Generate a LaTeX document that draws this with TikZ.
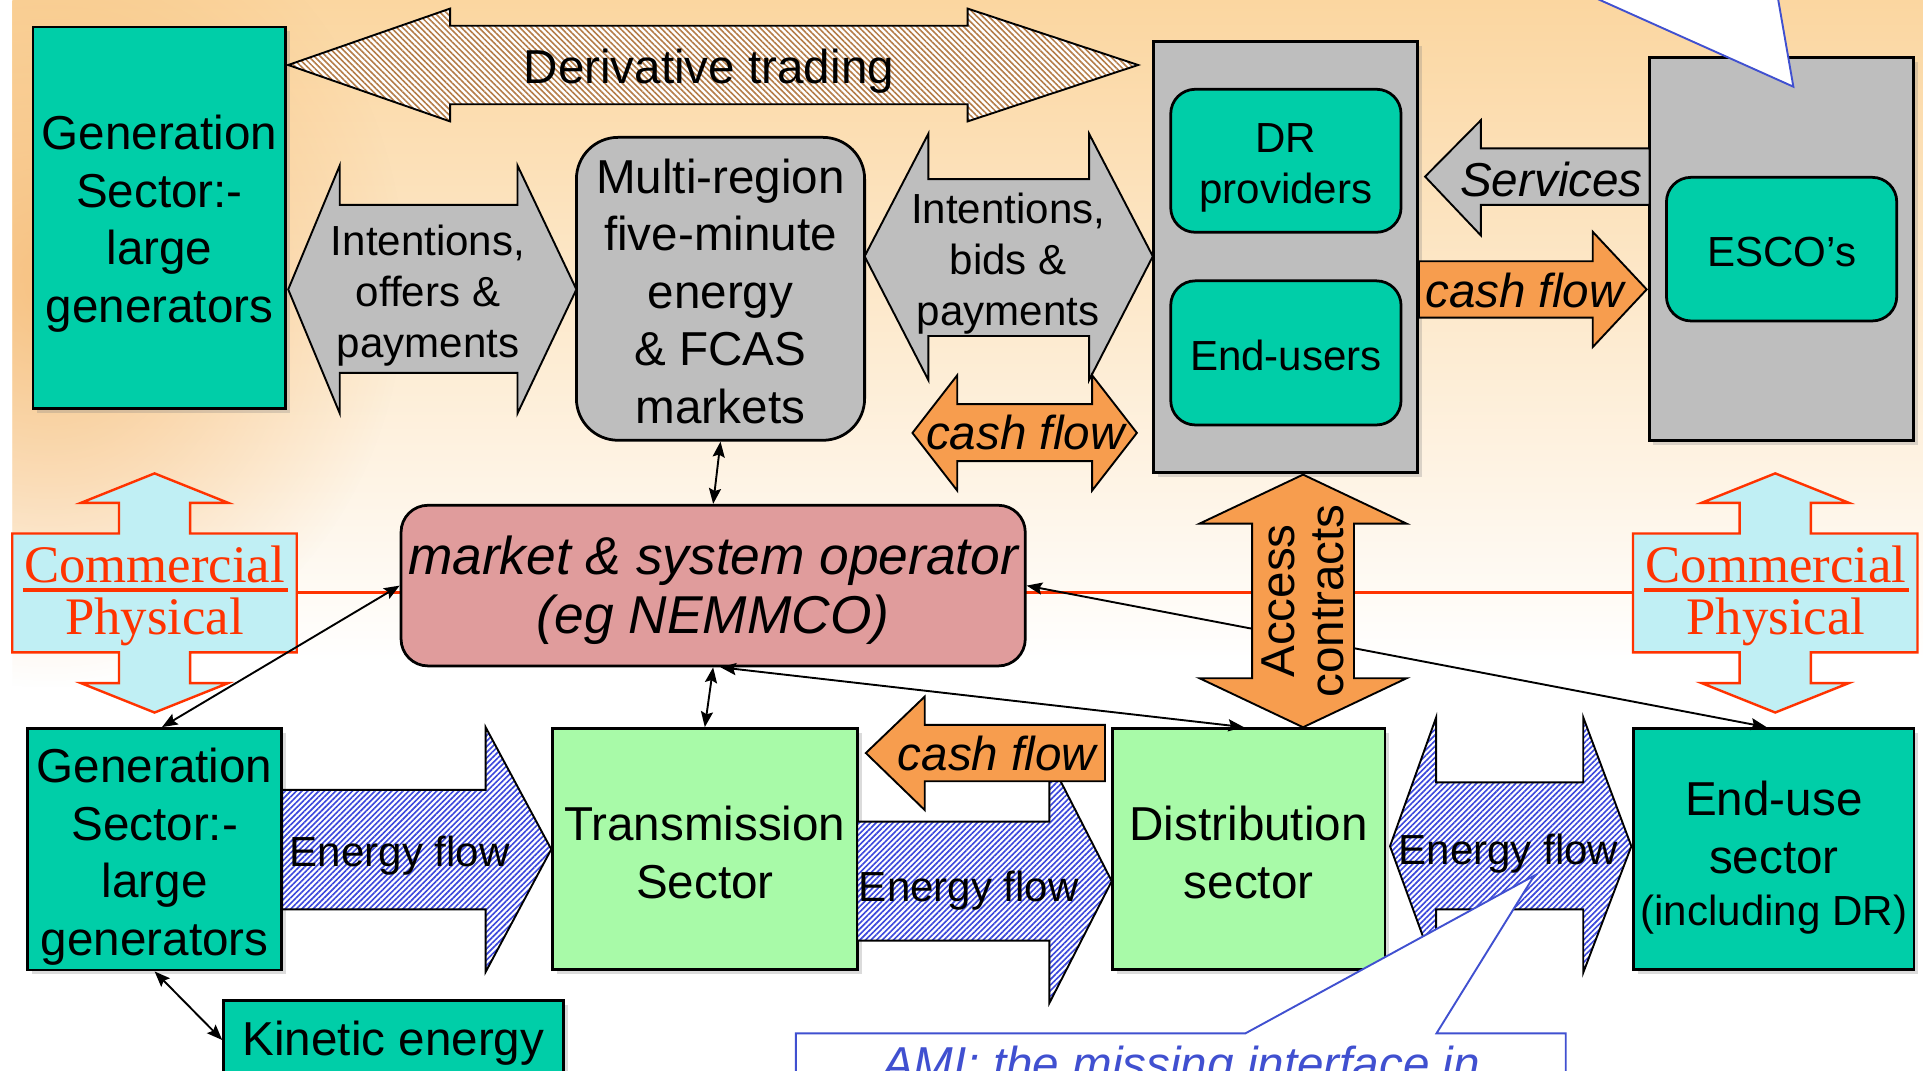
\documentclass[tikz,border=0pt]{standalone}
\usepackage{fontspec}
\setmainfont{Liberation Sans}
\newfontfamily\seriffam{Liberation Serif}
\usetikzlibrary{arrows.meta,calc,fit,shadows,patterns.meta,fadings}

\definecolor{teal1}{RGB}{0,206,168}
\definecolor{gray1}{RGB}{190,190,190}
\definecolor{lgreen}{RGB}{168,250,168}
\definecolor{pink1}{RGB}{224,156,156}
\definecolor{orng}{RGB}{247,157,78}
\definecolor{cyan1}{RGB}{192,239,244}
\definecolor{red1}{RGB}{255,51,0}
\definecolor{blue1}{RGB}{64,80,208}
\definecolor{hblue}{RGB}{60,72,220}
\definecolor{hbrown}{RGB}{180,124,72}
\definecolor{bgtop}{RGB}{251,214,160}
\definecolor{bgorange}{RGB}{244,178,100}

\newcommand\fntL{\fontsize{27.6}{33.4}\selectfont}
\newcommand\fntM{\fontsize{24.4}{29.4}\selectfont}
\newcommand\fntO{\fontsize{30.9}{34}\selectfont}
\newcommand\fntS{\seriffam\fontsize{30.6}{30}\selectfont}

\tikzfading[name=blobfade, inner color=transparent!30, outer color=transparent!100]

\tikzset{
  sbox/.style={draw=black, line width=1.6pt, inner sep=0pt},
  shadowed/.style={drop shadow={opacity=0.28, shadow xshift=2.5pt, shadow yshift=-2.5pt}},
  tealbox/.style={sbox, fill=teal1},
  graybox/.style={sbox, fill=gray1},
  greenbox/.style={sbox, fill=lgreen},
  pinkbox/.style={sbox, fill=pink1},
  barrow/.style={draw=black, line width=1.1pt, line join=miter},
  grayarrow/.style={barrow, fill=gray1},
  orangearrow/.style={barrow, fill=orng},
  hatchblue/.style={barrow, preaction={fill=white},
    pattern={Lines[angle=45,distance=2.3pt,line width=0.95pt]}, pattern color=hblue},
  hatchbrown/.style={barrow, preaction={fill=white},
    pattern={Lines[angle=-45,distance=2.4pt,line width=0.9pt]}, pattern color=hbrown},
  lbl/.style={inner sep=0pt, align=center},
  conn/.style={line width=1.1pt, {Stealth[length=9pt,width=7pt,inset=1.5pt]}-{Stealth[length=9pt,width=7pt,inset=1.5pt]}},
  redline/.style={draw=red1, line width=1.7pt},
  commline/.style={draw=red1, line width=1.4pt, fill=cyan1, line join=miter},
  calloutline/.style={draw=blue1, line width=1.1pt, fill=white, line join=miter},
  commshape/.pic={
    \path[commline] (0,0) -- (60,24) -- (29,24) -- (29,49) -- (116,49) -- (116,146)
      -- (29,146) -- (29,171) -- (60,171) -- (0,195) -- (-60,171) -- (-29,171)
      -- (-29,146) -- (-116,146) -- (-116,49) -- (-29,49) -- (-29,24) -- (-60,24) -- cycle;
  }
}

\begin{document}
\begin{tikzpicture}[x=0.025cm, y=-0.025cm]
\useasboundingbox (0,0) rectangle (1568,873);
\clip (0,0) rectangle (1568,873);

% warm background wash
\fill[white] (0,0) rectangle (1568,873);
\shade[top color=bgtop, bottom color=white] (10,0) rectangle (1568,540);
\begin{scope}
  \clip (10,0) rectangle (1568,600);
  \fill[bgorange, path fading=blobfade] (-250,-100) rectangle (330,560);
\end{scope}

% commercial / physical boundary
\coordinate (redL) at (242,483);
\coordinate (redR) at (1331,483);
\draw[redline] (redL) -- (redR);

\pic at (126,386) {commshape};
\pic at (1447.5,386) {commshape};
\node[lbl, anchor=base, text=red1, font=\fntS] (cmL) at (126,475) {Commercial};
\node[lbl, anchor=base, text=red1, font=\fntS] (phL) at (126,517) {Physical};
\draw[red1, line width=2pt] ($(cmL.base west)+(-1,6)$) -- ($(cmL.base east)+(2,6)$);
\node[lbl, anchor=base, text=red1, font=\fntS] (cmR) at (1448,475) {Commercial};
\node[lbl, anchor=base, text=red1, font=\fntS] (phR) at (1448,517) {Physical};
\draw[red1, line width=2pt] ($(cmR.base west)+(-1,6)$) -- ($(cmR.base east)+(2,6)$);

% commercial layer boxes
\node[tealbox, shadowed, fit={(27,22)(233,333)}] (g1) {};
\node[lbl, font=\fntL] (g1t) at ($(g1.center)+(0,5)$) {Generation\\Sector:-\\large\\generators};
\node[graybox, rounded corners=0.85cm, fit={(470,112)(705,359)}] (mr) {};
\node[lbl, font=\fntL] (mrt) at ($(mr.center)+(0,2)$)
  {Multi-region\\five-minute\\energy\\\& FCAS\\markets};
\node[graybox, shadowed, fit={(940.5,34)(1156,385.4)}] (drg) {};
\node[tealbox, rounded corners=0.5cm, fit={(954.6,72.8)(1142.4,189.4)}] (drp) {};
\node[lbl, font=\fntM] (drpt) at ($(drp.center)+(0,6)$) {DR\\providers};
\node[tealbox, rounded corners=0.5cm, fit={(954.6,229)(1142.4,346.5)}] (endu) {};
\node[lbl, font=\fntM] (endut) at ($(endu.center)+(0,2)$) {End-users};
\node[graybox, shadowed, fit={(1344.7,46.8)(1560,359.3)}] (escg) {};
\node[tealbox, rounded corners=0.5cm, fit={(1358.8,144.6)(1546.6,261.7)}] (esco) {};
\node[lbl, font=\fntM] (escot) at ($(esco.center)+(0,2)$) {ESCO’s};
\node[pinkbox, rounded corners=0.55cm, fit={(327,412)(836,543)}] (op) {};
\node[lbl, font=\fntO\itshape] (opt) at ($(op.center)+(0,4)$)
  {market \& system operator\\(eg NEMMCO)};

% physical layer boxes
\node[tealbox, shadowed, fit={(22.5,594)(229.7,791)}] (g2) {};
\node[lbl, font=\fntL] (g2t) at ($(g2.center)+(0,6)$) {Generation\\Sector:-\\large\\generators};
\node[greenbox, shadowed, fit={(450.4,594)(699,790.6)}] (tr) {};
\node[lbl, font=\fntL] (trt) at ($(tr.center)+(0,3)$) {Transmission\\Sector};
\node[greenbox, shadowed, fit={(907,594)(1129.3,790.6)}] (di) {};
\node[lbl, font=\fntL] (dit) at ($(di.center)+(0,3)$) {Distribution\\sector};
\node[tealbox, shadowed, fit={(1332.2,594)(1560.6,790.6)}] (eu) {};
\node[lbl, font=\fntL] (eut) at ($(eu.center)+(0,7)$)
  {End-use\\sector\\[-3pt]{\fntM(including DR)}};
\node[tealbox, shadowed, fit={(182.3,816)(459.4,880)}] (ke) {};
\node[lbl, font=\fntL] (ket) at (320.8,851) {Kinetic energy};

% information links
\draw[conn] (mr.south) -- (op.north);
\draw[conn] (op.south) -- (tr.north);
\draw[conn] ($(op.south)+(6,0)$) -- ($(di.north)+(-4,0)$);
\draw[conn] (op.east) -- ($(eu.north)+(-6,0)$);
\draw[conn] (op.west) -- ($(g2.north)+(6,0)$);
\draw[conn] (g2.south) -- (ke.west);

% derivative trading
\draw[hatchbrown] (235,53) -- (367,7) -- (367,21) -- (789,21) -- (789,7) -- (928,53)
  -- (789,99) -- (789,85) -- (367,85) -- (367,99) -- cycle;
\node[lbl, font=\fntL] (dtl) at (578,58) {Derivative trading};

% bids and offers
\draw[grayarrow] (235,236) -- (277,135) -- (277,167) -- (422,167) -- (422,135) -- (470,236)
  -- (422,337) -- (422,304) -- (277,304) -- (277,337) -- cycle;
\node[lbl, font=\fntM] (iol) at (349,241) {Intentions,\\offers \&\\payments};

\draw[grayarrow] (705,209) -- (757,109) -- (757,146) -- (888,146) -- (888,109) -- (940,209)
  -- (888,310) -- (888,274) -- (757,274) -- (757,310) -- cycle;
\node[lbl, font=\fntM] (ibl) at (822,215) {Intentions,\\bids \&\\payments};

\draw[orangearrow] (744,353) -- (780.5,306) -- (780.5,329.5) -- (890.5,329.5) -- (890.5,306)
  -- (927,353) -- (890.5,400) -- (890.5,376) -- (780.5,376) -- (780.5,400) -- cycle;
\node[lbl, font=\fntL\itshape] (cf1l) at (836,353) {cash flow};

% services and payments with ESCOs
\draw[grayarrow] (1162,144) -- (1207.5,98) -- (1207.5,121) -- (1345,121) -- (1345,167)
  -- (1207.5,167) -- (1207.5,192) -- cycle;
\node[lbl, font=\fntL\itshape] (svl) at (1265,146) {Services};

\draw[orangearrow] (1157,213) -- (1298.7,213) -- (1298.7,189) -- (1342.7,236)
  -- (1298.7,283) -- (1298.7,259) -- (1157,259) -- cycle;
\node[lbl, font=\fntL\itshape] (cf2l) at (1243,237) {cash flow};

% access contracts
\draw[orangearrow] (1062.5,387) -- (1147,427) -- (1104,427) -- (1104,553) -- (1147,553)
  -- (1062.5,593) -- (978,553) -- (1021,553) -- (1021,427) -- (978,427) -- cycle;
\node[lbl, rotate=90, font=\fontsize{27.6}{28.5}\selectfont] (acl) at (1062,490)
  {Access\\contracts};

% energy flows
\draw[hatchblue] (230,644) -- (396,644) -- (396,593) -- (449.5,692.5) -- (396,792.5)
  -- (396,741.5) -- (230,741.5) -- cycle;
\node[lbl, font=\fntM] (ef1l) at (326,698) {Energy flow};

\draw[hatchblue] (699,670) -- (855.6,670) -- (855.6,619) -- (906.5,718.5) -- (855.6,818)
  -- (855.6,767) -- (699,767) -- cycle;
\node[lbl, font=\fntM] (ef2l) at (790,726) {Energy flow};

\draw[orangearrow] (706,614) -- (754,568) -- (754,591) -- (901,591) -- (901,637)
  -- (754,637) -- (754,660.5) -- cycle;
\node[lbl, font=\fntL\itshape] (cf3l) at (813,614) {cash flow};

\draw[hatchblue] (1133.4,690) -- (1171,585) -- (1171,638) -- (1291,638) -- (1291,585)
  -- (1330.2,690) -- (1291,793) -- (1291,741.5) -- (1171,741.5) -- (1171,793) -- cycle;
\node[lbl, font=\fntM] (ef3l) at (1230,696) {Energy flow};

% callouts
\draw[calloutline] (1293.4,-5) -- (1462.3,70.7) -- (1449.1,-5);
\draw[calloutline] (649,900) -- (649,842.6) -- (1015.5,842.6) -- (1251,714) -- (1171.3,842.6)
  -- (1276.7,842.6) -- (1276.7,900);
\node[lbl, anchor=base, text=blue1, font=\fntL\itshape] (ami) at (963,881)
  {AMI: the missing interface in};
\end{tikzpicture}
\end{document}
